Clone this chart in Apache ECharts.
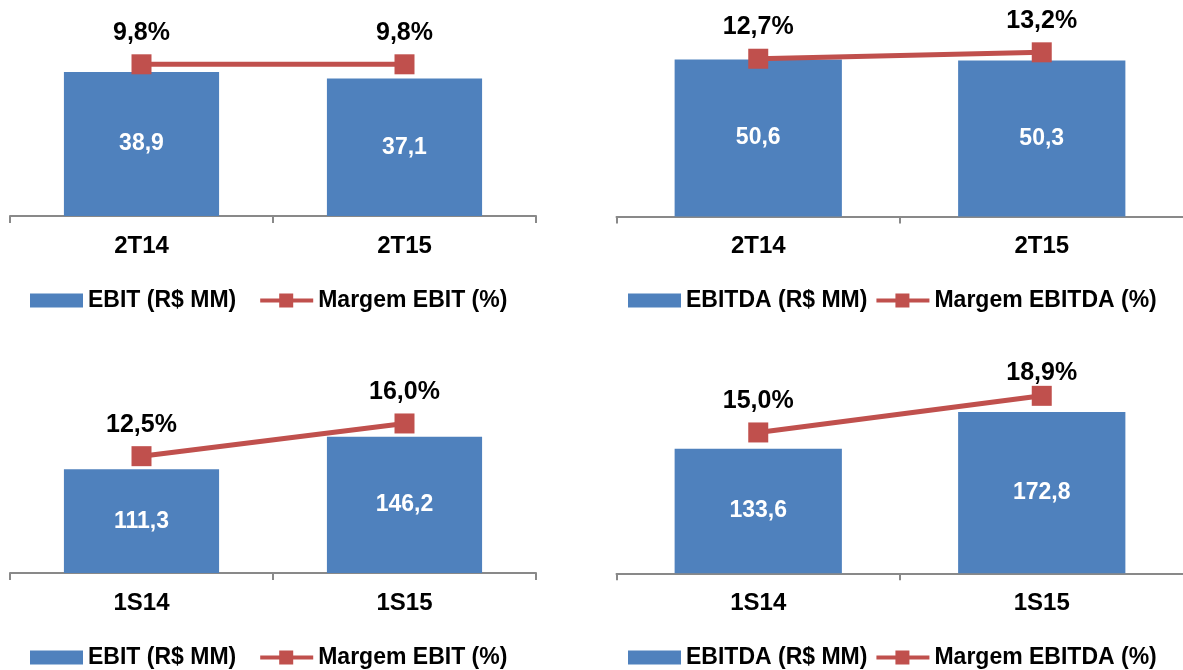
<!DOCTYPE html>
<html>
<head>
<meta charset="utf-8">
<script src="https://cdn.jsdelivr.net/npm/echarts@6/dist/echarts.min.js"></script>
<style>
  html, body { margin: 0; padding: 0; background: #fff; }
  #main { width: 1183px; height: 670px; }
</style>
</head>
<body>
<div id="main"></div>
<script>
// quarter / semester categories
const periodsQ = ['2T14', '2T15'];
const periodsS = ['1S14', '1S15'];

// R$ MM
const ebitQ = [38.9, 37.1];
const ebitdaQ = [50.6, 50.3];
const ebitS = [111.3, 146.2];
const ebitdaS = [133.6, 172.8];

// margins, %
const margemEbitQ = [9.8, 9.8];
const margemEbitdaQ = [12.7, 13.2];
const margemEbitS = [12.5, 16.0];
const margemEbitdaS = [15.0, 18.9];

const BLUE = '#4F81BD';
const RED = '#C0504D';
const FONT = 'Liberation Sans, Arial, sans-serif';

// legend icon for the margin series: thick line with a square marker
const LINE_ICON = 'path://M0,5H53V9H0Z M19,0H33V14H19Z';

const fmt = (v) => v.toFixed(1).replace('.', ',');

const panels = [
  { left: 10, width: 526, top: 16, cats: periodsQ, bars: ebitQ, line: margemEbitQ,
    barName: 'EBIT (R$ MM)', lineName: 'Margem EBIT (%)',
    barMax: 54, lineMin: 0, lineMax: 12.92, legendLeft: 30, legendTop: 289, legendGap: 24 },
  { left: 616.5, width: 567, top: 16.5, cats: periodsQ, bars: ebitdaQ, line: margemEbitdaQ,
    barName: 'EBITDA (R$ MM)', lineName: 'Margem EBITDA (%)',
    barMax: 64.5, lineMin: 0.37, lineMax: 16.0, legendLeft: 628, legendTop: 289, legendGap: 9 },
  { left: 10, width: 526, top: 373, cats: periodsS, bars: ebitS, line: margemEbitS,
    barName: 'EBIT (R$ MM)', lineName: 'Margem EBIT (%)',
    barMax: 214.8, lineMin: 0, lineMax: 21.4, legendLeft: 30, legendTop: 646, legendGap: 24 },
  { left: 616.5, width: 567, top: 373.3, cats: periodsS, bars: ebitdaS, line: margemEbitdaS,
    barName: 'EBITDA (R$ MM)', lineName: 'Margem EBITDA (%)',
    barMax: 214.4, lineMin: 0, lineMax: 21.3, legendLeft: 628, legendTop: 646, legendGap: 9,
    lastLabelDistance: 0 }
];

const grid = [], xAxis = [], yAxis = [], series = [], legend = [];

panels.forEach((p, i) => {
  grid.push({
    left: p.left, top: p.top, width: p.width, height: 200,
    containLabel: false, outerBoundsMode: 'none'
  });
  xAxis.push({
    type: 'category', gridIndex: i, data: p.cats, boundaryGap: true,
    axisLine: { lineStyle: { color: '#898989', width: 2 } },
    axisTick: { show: true, alignWithLabel: false, length: 7, lineStyle: { color: '#898989', width: 2 } },
    axisLabel: { margin: 18, color: '#000', fontFamily: FONT, fontWeight: 'bold', fontSize: 24 },
    splitLine: { show: false }
  });
  yAxis.push({ type: 'value', gridIndex: i, min: 0, max: p.barMax, show: false, splitLine: { show: false } });
  yAxis.push({ type: 'value', gridIndex: i, min: p.lineMin, max: p.lineMax, show: false, splitLine: { show: false } });

  series.push({
    name: p.barName, type: 'bar', xAxisIndex: i, yAxisIndex: i * 2,
    data: p.bars, barWidth: '59%',
    itemStyle: { color: BLUE },
    label: {
      show: true, position: 'inside', color: '#fff',
      fontFamily: FONT, fontWeight: 'bold', fontSize: 23,
      formatter: (params) => fmt(params.value)
    },
    silent: true
  });

  const lineData = p.line.map((v, k) => {
    if (p.lastLabelDistance != null && k === p.line.length - 1) {
      return { value: v, label: { distance: p.lastLabelDistance } };
    }
    return v;
  });
  series.push({
    name: p.lineName, type: 'line', xAxisIndex: i, yAxisIndex: i * 2 + 1,
    data: lineData, symbol: 'rect', symbolSize: 20, z: 5,
    lineStyle: { color: RED, width: 5 },
    itemStyle: { color: RED },
    label: {
      show: true, position: 'top', distance: 9, color: '#000',
      fontFamily: FONT, fontWeight: 'bold', fontSize: 25,
      formatter: (params) => fmt(params.value) + '%'
    },
    silent: true
  });

  legend.push({
    left: p.legendLeft, top: p.legendTop, padding: 0,
    itemWidth: 53, itemHeight: 14, itemGap: p.legendGap,
    data: [
      { name: p.barName, icon: 'rect' },
      { name: p.lineName, icon: LINE_ICON }
    ],
    textStyle: { color: '#000', fontFamily: FONT, fontWeight: 'bold', fontSize: 23, lineHeight: 22 },
    selectedMode: false
  });
});

const chart = echarts.init(document.getElementById('main'), null, { renderer: 'canvas' });
chart.setOption({
  animation: false,
  backgroundColor: '#fff',
  grid, xAxis, yAxis, series, legend
});
</script>
</body>
</html>
